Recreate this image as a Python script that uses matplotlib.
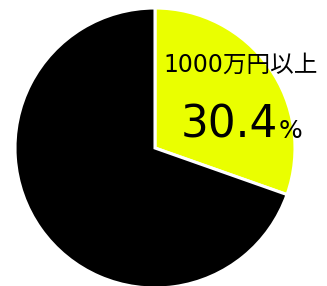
import matplotlib
matplotlib.use('Agg')
from matplotlib import pyplot as plt

plt.rcParams['font.family'] = ['DejaVu Sans', 'Noto Sans CJK JP']

# data
labels = ['1000万円以上', 'その他']
values = [30.4, 69.6]
colors = ['#EAFF00', '#000000']

fig = plt.figure(figsize=(3.27, 2.86), dpi=100)
ax = fig.add_axes([0, 0, 1, 1])

ax.pie(values, colors=colors, startangle=90, counterclock=False,
       radius=140, center=(155, 138), frame=True,
       wedgeprops=dict(edgecolor='white', linewidth=2.2))
ax.set_xlim(0, 327)
ax.set_ylim(0, 286)
ax.set_aspect('equal')
ax.axis('off')

# label of the highlighted slice
ax.text(163, 221, labels[0], ha='left', va='center', fontsize=17, color='black')
pct = ('%.1f' % values[0])
ax.text(278, 148, pct, ha='right', va='baseline', fontsize=31.5, color='black')
ax.text(279, 148, '%', ha='left', va='baseline', fontsize=18, color='black')

plt.savefig('out.png', dpi=100)
